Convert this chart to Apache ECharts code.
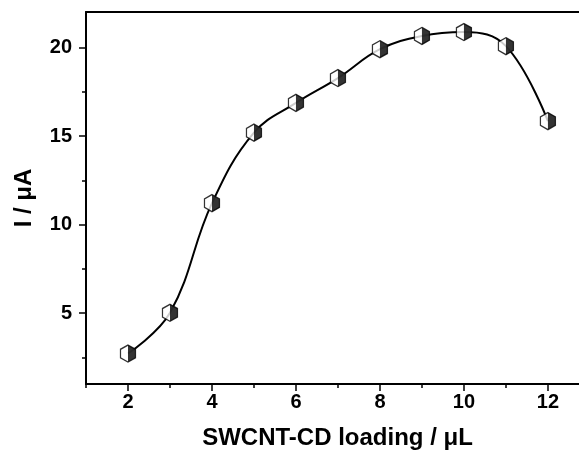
<!DOCTYPE html>
<html lang="en">
<head>
    <meta charset="UTF-8">
    <title>SWCNT-CD loading</title>
    <script src="https://cdn.jsdelivr.net/npm/echarts@6/dist/echarts.min.js"></script>
    <style>
        html, body { margin: 0; padding: 0; background: #fff; }
        #chart { width: 579px; height: 455px; }
    </style>
</head>
<body>
    <div id="chart"></div>
    <script>
        // 数据
        var loading = [2, 3, 4, 5, 6, 7, 8, 9, 10, 11, 12];
        var current = [2.72, 5.02, 11.21, 15.19, 16.87, 18.27, 19.9, 20.65, 20.87, 20.07, 15.84];
        var xLabels = [2, 4, 6, 8, 10, 12];
        var xMinor = [1, 3, 5, 7, 9, 11];
        var yLabels = [5, 10, 15, 20];
        var yMinor = [2.5, 7.5, 12.5, 17.5];

        var points = loading.map(function (x, i) { return [x, current[i]]; });

        // 六边形标记，左白右黑
        var hexFull = 'path://M7,0 L14,4 L14,12 L7,16 L0,12 L0,4 Z';
        var hexHalf = 'path://M0,0 L7,4 L7,12 L0,16 Z';

        var font = '"Liberation Sans", Arial, sans-serif';
        var lineStyle = { color: '#000', width: 2 };

        var myChart = echarts.init(document.getElementById('chart'));

        var option = {
            animation: false,
            grid: { left: 86, top: 12, right: 0, bottom: 68 },
            xAxis: [
                {
                    type: 'value',
                    min: 1,
                    max: 12.74,
                    position: 'bottom',
                    splitLine: { show: false },
                    axisLine: { lineStyle: lineStyle },
                    axisTick: { customValues: xLabels, length: 7, lineStyle: { color: '#000', width: 1.5 } },
                    axisLabel: {
                        customValues: xLabels,
                        color: '#000', fontFamily: font, fontWeight: 'bold', fontSize: 20, margin: 8
                    },
                    name: 'SWCNT-CD loading / μL',
                    nameLocation: 'middle',
                    nameGap: 42,
                    nameTextStyle: {
                        color: '#000', fontFamily: font, fontWeight: 'bold', fontSize: 24,
                        padding: [0, 0, 0, 10]
                    }
                },
                {
                    type: 'value',
                    min: 1,
                    max: 12.74,
                    position: 'bottom',
                    splitLine: { show: false },
                    axisLine: { show: false },
                    axisTick: { customValues: xMinor, length: 4, lineStyle: { color: '#000', width: 1.5 } },
                    axisLabel: { show: false }
                },
                {
                    // 上边框
                    type: 'value',
                    min: 1,
                    max: 12.74,
                    position: 'top',
                    splitLine: { show: false },
                    axisLine: { lineStyle: lineStyle },
                    axisTick: { show: false },
                    axisLabel: { show: false }
                }
            ],
            yAxis: [
                {
                    type: 'value',
                    min: 1,
                    max: 22,
                    position: 'left',
                    splitLine: { show: false },
                    axisLine: { lineStyle: lineStyle },
                    axisTick: { customValues: yLabels, length: 7, lineStyle: { color: '#000', width: 1.5 } },
                    axisLabel: {
                        customValues: yLabels,
                        color: '#000', fontFamily: font, fontWeight: 'bold', fontSize: 20, margin: 14
                    },
                    name: 'I / μA',
                    nameLocation: 'middle',
                    nameGap: 50,
                    nameTextStyle: { color: '#000', fontFamily: font, fontWeight: 'bold', fontSize: 24 }
                },
                {
                    type: 'value',
                    min: 1,
                    max: 22,
                    position: 'left',
                    splitLine: { show: false },
                    axisLine: { show: false },
                    axisTick: { customValues: yMinor, length: 4, lineStyle: { color: '#000', width: 1.5 } },
                    axisLabel: { show: false }
                }
            ],
            series: [
                {
                    type: 'line',
                    data: points,
                    smooth: 0.4,
                    symbol: 'none',
                    lineStyle: { color: '#000', width: 2 },
                    z: 2
                },
                {
                    type: 'scatter',
                    data: points,
                    symbol: hexFull,
                    symbolSize: [15, 17],
                    itemStyle: { color: '#fff', borderColor: '#000', borderWidth: 1.3 },
                    z: 3
                },
                {
                    type: 'scatter',
                    data: points,
                    symbol: hexHalf,
                    symbolSize: [7.5, 17],
                    symbolOffset: [3.75, 0],
                    itemStyle: { color: '#000' },
                    z: 4
                }
            ]
        };

        myChart.setOption(option);
    </script>
</body>
</html>
